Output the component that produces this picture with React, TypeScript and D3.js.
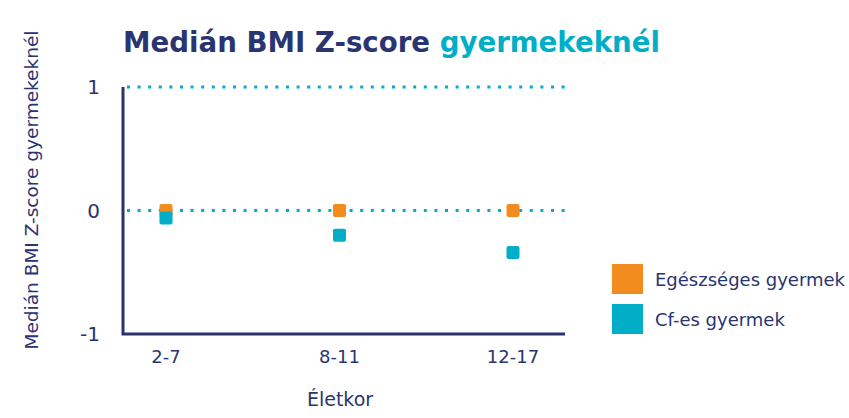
import React from 'react';
import * as d3 from 'd3';

const categories = ['2-7', '8-11', '12-17'];
const healthy = [0, 0, 0];
const cf = [-0.06, -0.2, -0.34];
const seriesNames = ['Egészséges gyermek', 'Cf-es gyermek'];
const yTicks = [-1, 0, 1];

const NAVY = '#2a3470';
const TEAL = '#00aec7';
const ORANGE = '#f28c1e';
const FONT = '"DejaVu Sans", Verdana, sans-serif';

const App = () => {
    const width = 849;
    const height = 418;
    const left = 123;
    const right = 565;
    const top = 87;
    const bottom = 334;

    const x = d3.scalePoint<string>().domain(categories).range([166, 513]);
    const y = d3.scaleLinear().domain([-1, 1]).range([bottom, top]);

    const series = [
        { name: seriesNames[0], values: healthy, color: ORANGE },
        { name: seriesNames[1], values: cf, color: TEAL },
    ];
    const size = 13;

    return (
        <svg width={width} height={height} style={{ position: 'absolute', left: 0, top: 0 }}>
            <rect width={width} height={height} fill='#fff' />
            <text x={123} y={52} fontFamily={FONT} fontSize={27.5} fontWeight='bold' fill={NAVY}
                textLength={537} lengthAdjust='spacingAndGlyphs'>
                Medián BMI Z-score <tspan fill={TEAL}>gyermekeknél</tspan>
            </text>

            {yTicks.filter(t => t > -1).map(t => (
                <line key={t} x1={left + 4} x2={right} y1={y(t)} y2={y(t)}
                    stroke={TEAL} strokeWidth={3} strokeDasharray='3 7.6' />
            ))}

            <path d={`M${left},${top}V${bottom}H${right}`} fill='none' stroke={NAVY} strokeWidth={3} />

            {yTicks.map(t => (
                <text key={t} x={100} y={y(t) + 7} textAnchor='end' fontFamily={FONT} fontSize={20} fill={NAVY}>
                    {t}
                </text>
            ))}

            {categories.map(c => (
                <text key={c} x={x(c)} y={363} textAnchor='middle' fontFamily={FONT} fontSize={18} fill={NAVY}>
                    {c}
                </text>
            ))}

            <text x={340} y={406} textAnchor='middle' fontFamily={FONT} fontSize={19} fill={NAVY}>Életkor</text>
            <text transform='translate(38,190) rotate(-90)' textAnchor='middle' fontFamily={FONT} fontSize={18.5} fill={NAVY}>
                Medián BMI Z-score gyermekeknél
            </text>

            {series.map(s => (
                <g key={s.name} fill={s.color}>
                    {s.values.map((v, i) => (
                        <rect key={i} x={(x(categories[i]) as number) - size / 2} y={y(v) - size / 2}
                            width={size} height={size} rx={2} />
                    ))}
                </g>
            ))}

            {series.map((s, i) => (
                <g key={s.name} transform={`translate(612,${264 + i * 40})`}>
                    <rect width={31} height={30} fill={s.color} />
                    <text x={43} y={22} fontFamily={FONT} fontSize={18} fill={NAVY}>{s.name}</text>
                </g>
            ))}
        </svg>
    );
};

export default App;
